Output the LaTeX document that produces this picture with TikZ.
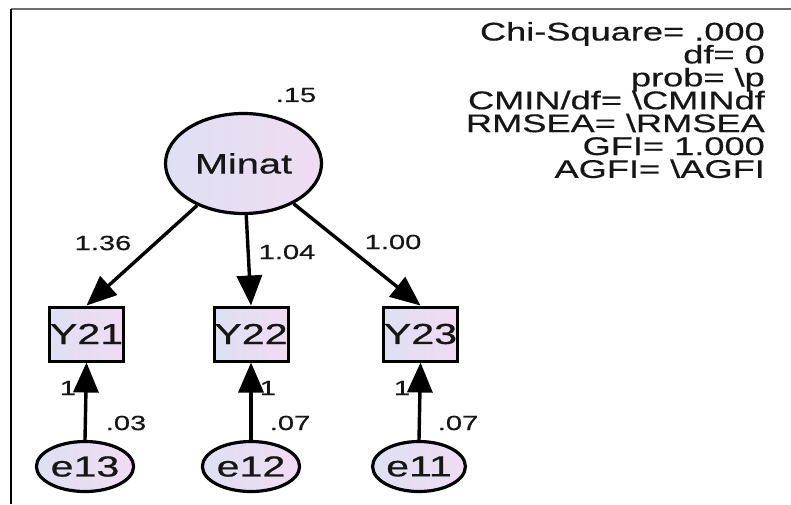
\documentclass[tikz,border=0pt]{standalone}
\usepackage{fontspec}
\setmainfont{Liberation Sans}[BoldFont=Liberation Sans,BoldFeatures={FakeBold=0.45}]
\usetikzlibrary{shapes.geometric,arrows.meta}
\newcommand\stretchtext[1]{\scalebox{1.42}[1]{\bfseries #1}}
\definecolor{inkblack}{RGB}{22,22,22}
\definecolor{fillleft}{RGB}{222,224,242}
\definecolor{fillright}{RGB}{240,220,242}
\definecolor{framegray}{RGB}{110,110,110}
\begin{document}
\begin{tikzpicture}[x=1pt,y=-1pt,
  latent/.style={ellipse,draw=black,line width=3.2pt,inner sep=0pt,
    left color=fillleft,right color=fillright,text=inkblack},
  observed/.style={rectangle,draw=black,line width=3pt,inner sep=0pt,
    minimum width=74pt,minimum height=54pt,
    left color=fillleft,right color=fillright,text=inkblack,
    font=\fontsize{29}{31}\selectfont},
  errvar/.style={latent,minimum width=73pt,minimum height=50pt,
    font=\fontsize{29}{31}\selectfont},
  path arrow/.style={line width=3.4pt,draw=black,
    -{Triangle[length=30pt,width=25pt]}},
  coef/.style={inner sep=0pt,text=inkblack,font=\fontsize{20.5}{22}\selectfont},
  fitline/.style={anchor=base east,inner sep=0pt,text=inkblack,
    font=\fontsize{25.5}{27}\selectfont}]
\useasboundingbox (0,0) rectangle (791,504);
\fill[white] (0,0) rectangle (791,504);

% frame edges
\draw[framegray,line width=2pt] (11,9) -- (791,9);
\draw[black,line width=2pt] (11,9) -- (11,504);

% latent factor
\node[latent,minimum width=156pt,minimum height=100pt,
  font=\fontsize{28}{30}\selectfont] (minat) at (243.5,163.5) {\stretchtext{Minat}};

% indicators
\node[observed] (y21) at (86.5,334) {\stretchtext{Y21}};
\node[observed] (y22) at (251,334) {\stretchtext{Y22}};
\node[observed] (y23) at (420.5,334) {\stretchtext{Y23}};

% error terms
\node[errvar] (e13) at (85,466.5) {\stretchtext{e13}};
\node[errvar] (e12) at (251,466.5) {\stretchtext{e12}};
\node[errvar] (e11) at (419,466.5) {\stretchtext{e11}};

% loadings
\draw[path arrow] (minat) -- (y21.north);
\draw[path arrow] (minat) -- (y22.north);
\draw[path arrow] (minat) -- (y23.north);

% error paths
\draw[path arrow] (e13.north) -- (y21.south);
\draw[path arrow] (e12.north) -- (y22.south);
\draw[path arrow] (e11.north) -- (y23.south);

% estimates
\node[coef] (r2) at (296,95) {\stretchtext{.15}};
\node[coef] (l21) at (103,243) {\stretchtext{1.36}};
\node[coef] (l22) at (287,252) {\stretchtext{1.04}};
\node[coef] (l23) at (393,242) {\stretchtext{1.00}};
\node[coef] (f13) at (68,388) {\stretchtext{1}};
\node[coef] (f12) at (268,388) {\stretchtext{1}};
\node[coef] (f11) at (402,388) {\stretchtext{1}};
\node[coef] (v13) at (126,423) {\stretchtext{.03}};
\node[coef] (v12) at (290,423) {\stretchtext{.07}};
\node[coef] (v11) at (458,423) {\stretchtext{.07}};

% fit statistics
\node[fitline] (fit1) at (765,40.5) {\stretchtext{Chi-Square= .000}};
\node[fitline] (fit2) at (765,63.4) {\stretchtext{df= 0}};
\node[fitline] (fit3) at (765,86.3) {\stretchtext{prob= \textbackslash p}};
\node[fitline] (fit4) at (765,109.2) {\stretchtext{CMIN/df= \textbackslash CMINdf}};
\node[fitline] (fit5) at (765,132.1) {\stretchtext{RMSEA= \textbackslash RMSEA}};
\node[fitline] (fit6) at (765,155) {\stretchtext{GFI= 1.000}};
\node[fitline] (fit7) at (765,177.9) {\stretchtext{AGFI= \textbackslash AGFI}};
\end{tikzpicture}
\end{document}
